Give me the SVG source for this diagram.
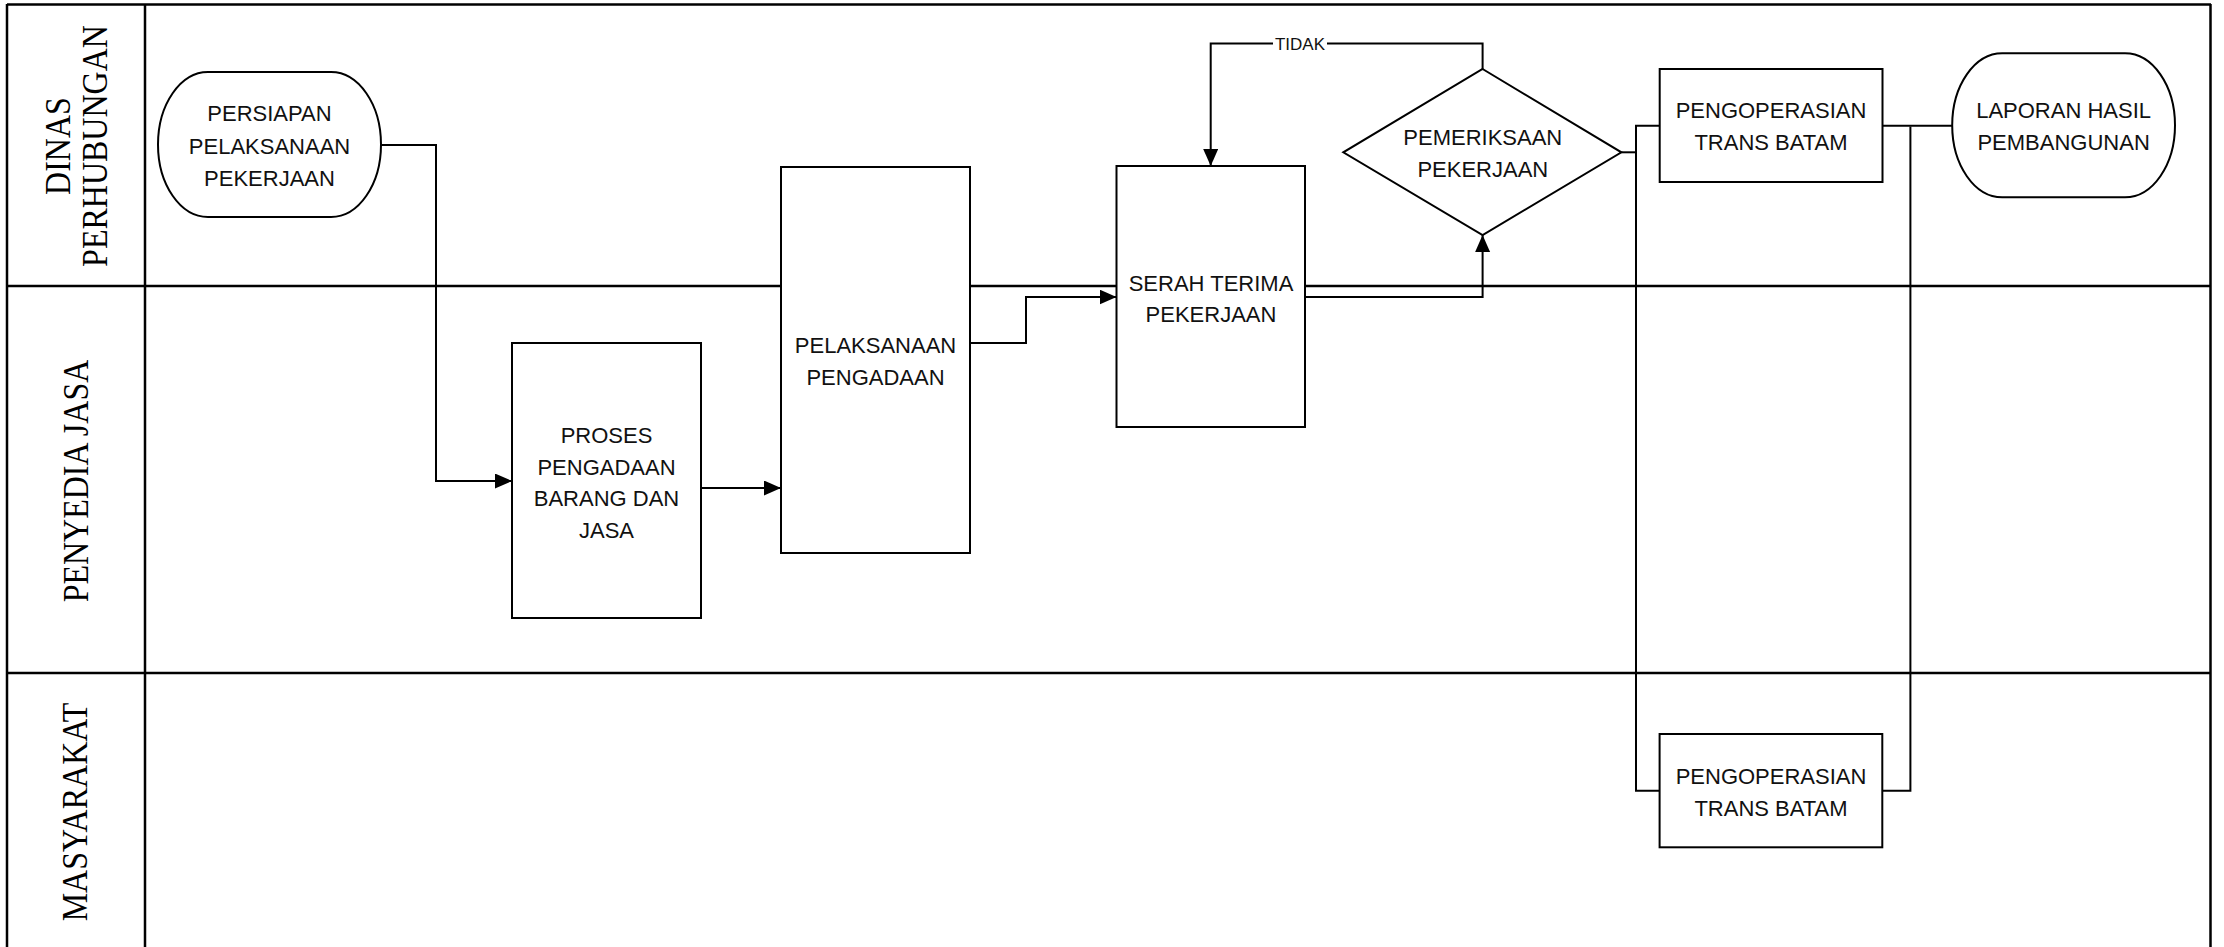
<svg xmlns="http://www.w3.org/2000/svg" width="2224" height="947" viewBox="0 0 2224 947">
<style>
.lane{stroke:#000;stroke-width:2.5;fill:none}
.node{fill:#fff;stroke:#000;stroke-width:2}
.conn{fill:none;stroke:#000;stroke-width:2}
.t{font-family:"Liberation Sans",Arial,sans-serif;font-size:22px;text-anchor:middle;fill:#111}
.lbl{font-family:"Liberation Serif","Times New Roman",serif;font-size:32px;text-anchor:middle;fill:#000}
.small{font-family:"Liberation Sans",Arial,sans-serif;font-size:17px;text-anchor:middle;fill:#111}
</style>
<defs>
<marker id="arr" markerUnits="userSpaceOnUse" markerWidth="18" markerHeight="16" refX="17" refY="7.5" orient="auto">
<path d="M0,0 L17,7.5 L0,15 z" fill="#000"/>
</marker>
</defs>
<rect x="0" y="0" width="2224" height="947" fill="#fff"/>
<g id="lanes">
<line class="lane" x1="7" y1="4.5" x2="2211" y2="4.5"/>
<line class="lane" x1="7" y1="4" x2="7" y2="947"/>
<line class="lane" x1="2210.5" y1="4" x2="2210.5" y2="947"/>
<line class="lane" x1="145" y1="4" x2="145" y2="947"/>
<line class="lane" x1="7" y1="286" x2="2211" y2="286"/>
<line class="lane" x1="7" y1="673" x2="2211" y2="673"/>
<text class="lbl" transform="translate(70,146) rotate(-90) scale(1,1.12)">DINAS</text>
<text class="lbl" transform="translate(107,146) rotate(-90) scale(1,1.12)">PERHUBUNGAN</text>
<text class="lbl" transform="translate(88,481) rotate(-90) scale(1,1.12)">PENYEDIA JASA</text>
<text class="lbl" transform="translate(87,812) rotate(-90) scale(1,1.12)">MASYARAKAT</text>
</g>
<g id="connectors">
<path class="conn" d="M381,145 H436 V481 H512" marker-end="url(#arr)"/>
<path class="conn" d="M701,488 H781" marker-end="url(#arr)"/>
<path class="conn" d="M970,343 H1026 V297 H1116.5" marker-end="url(#arr)"/>
<path class="conn" d="M1305,297 H1482.6 V235" marker-end="url(#arr)"/>
<path class="conn" d="M1482.6,69 V43.5 H1210.7 V166" marker-end="url(#arr)"/>
<rect x="1273" y="34" width="54" height="19" fill="#fff"/>
<text class="small" x="1300" y="49.5">TIDAK</text>
<path class="conn" d="M1621.4,152.3 H1636"/>
<path class="conn" d="M1659.5,125.7 H1636 V790.7 H1659.5"/>
<path class="conn" d="M1882.5,125.7 H1952.2"/>
<path class="conn" d="M1910.4,126.5 V790.7 H1882.3"/>
</g>
<g id="persiapan">
<rect class="node" x="158" y="72" width="223" height="145" rx="50" ry="72.5"/>
<text class="t" x="269.5" y="121">PERSIAPAN</text>
<text class="t" x="269.5" y="154">PELAKSANAAN</text>
<text class="t" x="269.5" y="186">PEKERJAAN</text>
</g>
<g id="proses">
<rect class="node" x="512" y="343" width="189" height="275"/>
<text class="t" x="606.5" y="443">PROSES</text>
<text class="t" x="606.5" y="474.5">PENGADAAN</text>
<text class="t" x="606.5" y="506">BARANG DAN</text>
<text class="t" x="606.5" y="538">JASA</text>
</g>
<g id="pelaksanaan">
<rect class="node" x="781" y="167" width="189" height="386"/>
<text class="t" x="875.5" y="353">PELAKSANAAN</text>
<text class="t" x="875.5" y="385">PENGADAAN</text>
</g>
<g id="serah">
<rect class="node" x="1116.5" y="166" width="188.5" height="261"/>
<text class="t" x="1211" y="290.5">SERAH TERIMA</text>
<text class="t" x="1211" y="322">PEKERJAAN</text>
</g>
<g id="pemeriksaan">
<polygon class="node" points="1482.6,69 1621.4,152.3 1482.6,235 1343.3,152.3"/>
<text class="t" x="1482.8" y="144.5">PEMERIKSAAN</text>
<text class="t" x="1482.8" y="177">PEKERJAAN</text>
</g>
<g id="pengoperasian1">
<rect class="node" x="1659.7" y="69" width="222.8" height="113"/>
<text class="t" x="1771" y="118">PENGOPERASIAN</text>
<text class="t" x="1771" y="149.5">TRANS BATAM</text>
</g>
<g id="laporan">
<rect class="node" x="1952.2" y="53.3" width="222.8" height="144" rx="50" ry="72"/>
<text class="t" x="2063.6" y="118">LAPORAN HASIL</text>
<text class="t" x="2063.6" y="149.5">PEMBANGUNAN</text>
</g>
<g id="pengoperasian2">
<rect class="node" x="1659.6" y="734" width="222.7" height="113.3"/>
<text class="t" x="1771" y="784">PENGOPERASIAN</text>
<text class="t" x="1771" y="815.5">TRANS BATAM</text>
</g>
</svg>
